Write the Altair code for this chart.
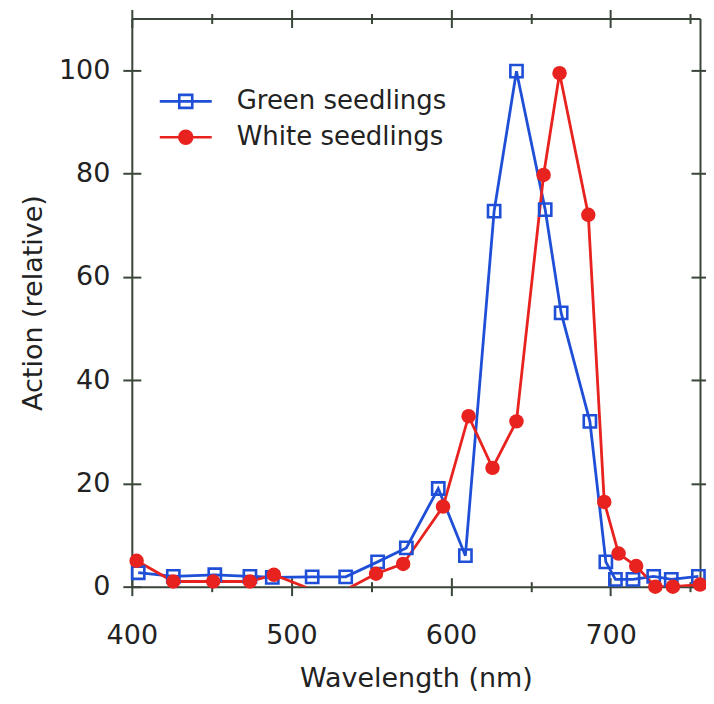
import altair as alt
import pandas as pd

# ---- data ----
green_wl = [404, 426, 452, 474, 488, 513, 534, 554, 572, 592, 609, 627, 641, 659, 669, 687, 697, 703, 714, 727, 738, 755]
green_val = [2.7, 2.0, 2.3, 2.0, 1.8, 1.9, 1.9, 4.8, 7.5, 19.0, 6.0, 72.7, 99.8, 73.0, 53.0, 32.0, 4.8, 1.4, 1.4, 2.0, 1.4, 2.0]

red_wl = [403, 426, 451, 474, 489, 513, 534, 553, 570, 595, 611, 626, 641, 658, 668, 686, 696, 705, 716, 728, 739, 756]
red_val = [5.0, 1.0, 1.0, 1.0, 2.3, -0.6, -0.6, 2.5, 4.4, 15.5, 33.0, 23.0, 32.0, 79.7, 99.4, 72.0, 16.4, 6.4, 4.0, 0.0, 0.0, 0.4]

series_names = ["Green seedlings", "White seedlings"]

x_major = [400, 500, 600, 700]
x_minor = [450, 550, 650, 750]
y_major = [0, 20, 40, 60, 80, 100]

BLUE = "#1f4fd6"
RED = "#e8221e"
AXC = "#3a463a"
TXT = "#222222"
FONT = "DejaVu Sans"

green = pd.DataFrame({"wl": green_wl, "val": green_val, "series": series_names[0]})
red = pd.DataFrame({"wl": red_wl, "val": red_val, "series": series_names[1]})
both = pd.concat([green, red], ignore_index=True)

xs = alt.Scale(domain=[400, 756], nice=False, zero=False)
ys = alt.Scale(domain=[0, 110], nice=False, zero=True)

MAJ = 9
MIN = 5


def ax(orient, values, size, offset=0, labels=False, domain=False, title=None, **kw):
    opts = dict(orient=orient, values=values, tickSize=size, tickWidth=2, tickColor=AXC,
                domain=domain, domainColor=AXC, domainWidth=2, grid=False,
                labels=labels, title=title, offset=offset)
    if labels:
        opts.update(labelFont=FONT, labelFontSize=27, labelColor=TXT, labelFlush=False,
                    labelOverlap=False)
    if title:
        opts.update(titleFont=FONT, titleFontSize=27, titleFontWeight="normal", titleColor=TXT)
    opts.update(kw)
    return alt.Axis(**opts)


def axis_layer(xaxis, yaxis):
    return alt.Chart(both).mark_point(opacity=0).encode(
        x=alt.X("wl:Q", scale=xs, axis=xaxis),
        y=alt.Y("val:Q", scale=ys, axis=yaxis),
    )


layers = [
    axis_layer(ax("bottom", x_major, MAJ, labels=True, domain=True, title="Wavelength (nm)",
                  labelPadding=27, titlePadding=17),
               ax("left", y_major, MAJ, labels=True, domain=True, title="Action (relative)",
                  labelPadding=13, titlePadding=11)),
    axis_layer(ax("bottom", x_minor, MIN),
               ax("right", y_major, MAJ, domain=True)),
    axis_layer(ax("bottom", x_major, MAJ, offset=-MAJ),
               ax("left", y_major, MAJ, offset=-MAJ)),
    axis_layer(ax("bottom", x_minor, MIN, offset=-MIN),
               ax("right", y_major, MAJ, offset=-MAJ)),
    axis_layer(ax("top", x_major, MAJ, domain=True), None),
    axis_layer(ax("top", x_minor, MIN), None),
    axis_layer(ax("top", x_major, MAJ, offset=-MAJ), None),
    axis_layer(ax("top", x_minor, MIN, offset=-MIN), None),
]

X = alt.X("wl:Q", scale=xs, axis=None)
Y = alt.Y("val:Q", scale=ys, axis=None)

green_line = alt.Chart(green).mark_line(color=BLUE, strokeWidth=2.8).encode(x=X, y=Y)
red_line = alt.Chart(red).mark_line(color=RED, strokeWidth=2.8, clip=True).encode(x=X, y=Y)
green_pts = alt.Chart(green).mark_point(shape="square", filled=False, color=BLUE,
                                        strokeWidth=2.6, size=150, opacity=1).encode(x=X, y=Y)
red_pts = alt.Chart(red).transform_filter(alt.datum.val >= 0).mark_point(
    shape="circle", filled=True, color=RED, size=210, opacity=1).encode(x=X, y=Y)

sq_path = "M-4,0H4M-1,-1H1V1H-1Z"
ci_path = "M-4,0H4M-1,0A1,1 0 1,0 1,0A1,1 0 1,0 -1,0Z"

legend_layer = alt.Chart(both).mark_point(opacity=0, filled=False, strokeWidth=2.6).encode(
    x=X, y=Y,
    color=alt.Color("series:N", scale=alt.Scale(domain=series_names, range=[BLUE, RED]),
                    title=None,
                    legend=alt.Legend(orient="none", legendX=41, legendY=70, title=None,
                                      symbolSize=169, symbolStrokeWidth=2.6, symbolOpacity=1,
                                      labelFont=FONT, labelFontSize=26, labelColor=TXT,
                                      labelLimit=0, labelOffset=38, rowPadding=10, padding=0)),
    shape=alt.Shape("series:N", scale=alt.Scale(domain=series_names, range=[sq_path, ci_path]),
                    title=None),
    fill=alt.Fill("series:N", scale=alt.Scale(domain=series_names, range=["rgba(0,0,0,0)", RED]),
                  title=None),
)

chart = alt.layer(*layers, green_line, red_line, green_pts, red_pts, legend_layer).resolve_axis(
    x="independent", y="independent"
).properties(
    width=569, height=569,
    padding={"left": 124, "top": 10, "right": 6, "bottom": 109},
    autosize=alt.AutoSizeParams(type="none"),
).configure_view(stroke=None).configure(background="white")

chart.save("out.html", embed_options={"renderer": "svg", "actions": False})
